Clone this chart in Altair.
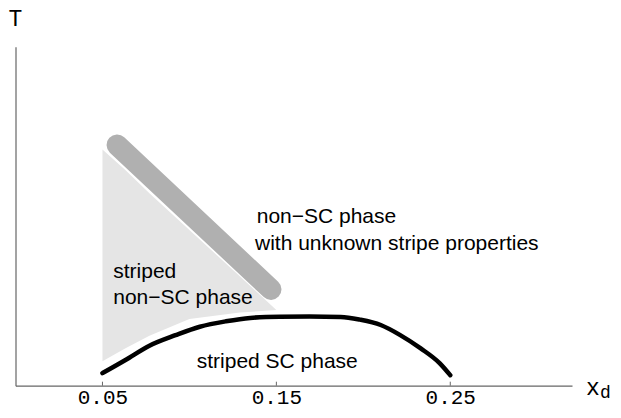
import altair as alt
import pandas as pd

# ---- data ----
tick_values = [0.05, 0.15, 0.25]

# superconducting dome (black curve)
sc_x = [0.050, 0.063, 0.077, 0.092, 0.106, 0.121, 0.135, 0.152, 0.169, 0.187, 0.198, 0.210, 0.221, 0.233, 0.244, 0.250]
sc_T = [0.037, 0.075, 0.118, 0.149, 0.174, 0.190, 0.200, 0.2035, 0.204, 0.203, 0.195, 0.179, 0.150, 0.110, 0.066, 0.031]

# striped non-SC region (light grey)
reg_x = [0.050, 0.063, 0.077, 0.100, 0.129, 0.150]
reg_top = [0.697, 0.637, 0.568, 0.459, 0.323, 0.223]
reg_bottom = [0.072, 0.110, 0.147, 0.197, 0.216, 0.223]

# crossover band (dark grey)
band_x0, band_T0 = [0.0584], [0.710]
band_x1, band_T1 = [0.1469], [0.284]

# annotations
ann_text = ["non\u2212SC phase", "with unknown stripe properties", "striped", "non\u2212SC phase", "striped SC phase"]
ann_x = [0.1387, 0.1377, 0.0562, 0.0562, 0.1042]
ann_T = [0.479, 0.399, 0.319, 0.240, 0.053]

W, H = 556.5, 339
xs = alt.Scale(domain=[0, 0.32], nice=False, zero=False)
ys = alt.Scale(domain=[0, 1], nice=False, zero=False)

x_axis = alt.Axis(values=tick_values, format=".2f", ticks=False, tickSize=0, grid=False,
                  labelFont="Liberation Mono", labelFontSize=21, labelColor="#000",
                  labelBaseline="alphabetic", labelPadding=18.1,
                  domainColor="#666", domainWidth=1.2, title=None)
y_axis = alt.Axis(ticks=False, labels=False, grid=False, domainColor="#666",
                  domainWidth=1.2, title=None)

df_reg = pd.DataFrame({"x": reg_x, "top": reg_top, "bottom": reg_bottom})
region = alt.Chart(df_reg).mark_area(color="#e5e5e5", opacity=1).encode(
    x=alt.X("x:Q", scale=xs, axis=x_axis),
    y=alt.Y("top:Q", scale=ys, axis=y_axis),
    y2="bottom:Q",
)

df_band = pd.DataFrame({"x0": band_x0, "T0": band_T0, "x1": band_x1, "T1": band_T1})
band = alt.Chart(df_band).mark_rule(color="#b0b0b0", strokeWidth=21, strokeCap="round").encode(
    x=alt.X("x0:Q", scale=xs), y=alt.Y("T0:Q", scale=ys), x2="x1:Q", y2="T1:Q"
)

df_sc = pd.DataFrame({"x": sc_x, "T": sc_T})
dome = alt.Chart(df_sc).mark_line(color="black", strokeWidth=4.5, strokeCap="round",
                                  interpolate="monotone").encode(
    x=alt.X("x:Q", scale=xs), y=alt.Y("T:Q", scale=ys)
)

df_ticks = pd.DataFrame({"x": tick_values})
ticks = alt.Chart(df_ticks).mark_rule(color="#666", strokeWidth=1).encode(
    x=alt.X("x:Q", scale=xs), y=alt.value(H), y2=alt.value(H - 4)
)

df_ann = pd.DataFrame({"text": ann_text, "x": ann_x, "T": ann_T})
labels = alt.Chart(df_ann).mark_text(font="Liberation Sans", fontSize=21, align="left",
                                     baseline="alphabetic", color="black").encode(
    x=alt.X("x:Q", scale=xs), y=alt.Y("T:Q", scale=ys), text="text:N"
)

df_one = pd.DataFrame({"k": [0]})
t_title = alt.Chart(df_one).mark_text(text="T", font="Liberation Mono", fontSize=23,
                                      align="center", baseline="alphabetic", color="black").encode(
    x=alt.value(0), y=alt.value(-20.7)
)
x_title = alt.Chart(df_one).mark_text(text="x", font="Liberation Mono", fontSize=23,
                                      align="left", baseline="alphabetic", color="black").encode(
    x=alt.value(570.5), y=alt.value(348.5)
)
d_title = alt.Chart(df_one).mark_text(text="d", font="Liberation Mono", fontSize=18,
                                      align="left", baseline="alphabetic", color="black").encode(
    x=alt.value(584.5), y=alt.value(351.5)
)

chart = alt.layer(region, band, dome, ticks, labels, t_title, x_title, d_title).properties(
    width=W, height=H,
    padding={"left": 7.5, "top": 38.7, "right": 41, "bottom": 24.3},
    autosize=alt.AutoSizeParams(type="none"),
).configure_view(strokeWidth=0)

chart.save("out.html", embed_options={"renderer": "svg", "actions": False})
